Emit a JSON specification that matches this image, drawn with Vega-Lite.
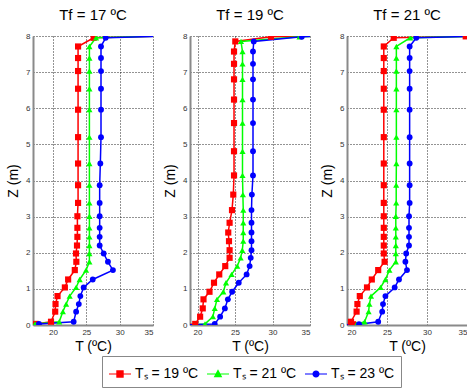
{
"$schema": "https://vega.github.io/schema/vega-lite/v6.json",
"padding": {"left": 6, "top": 8, "right": 0, "bottom": 0},
"datasets": {"d": [
{"p":"17","s":"19","T":16,"z":0},{"p":"17","s":"19","T":17.4,"z":0.03},{"p":"17","s":"19","T":19.7,"z":0.09},{"p":"17","s":"19","T":20.33,"z":0.37},{"p":"17","s":"19","T":20.38,"z":0.58},{"p":"17","s":"19","T":20.68,"z":0.8},{"p":"17","s":"19","T":21.78,"z":1.04},{"p":"17","s":"19","T":22.27,"z":1.26},{"p":"17","s":"19","T":23.27,"z":1.52},{"p":"17","s":"19","T":23.5,"z":1.75},{"p":"17","s":"19","T":23.45,"z":1.98},{"p":"17","s":"19","T":23.6,"z":2.2},{"p":"17","s":"19","T":23.66,"z":2.44},{"p":"17","s":"19","T":23.66,"z":2.69},{"p":"17","s":"19","T":23.66,"z":3.01},{"p":"17","s":"19","T":23.76,"z":3.38},{"p":"17","s":"19","T":23.76,"z":3.87},{"p":"17","s":"19","T":23.76,"z":4.47},{"p":"17","s":"19","T":23.76,"z":5.2},{"p":"17","s":"19","T":23.76,"z":5.96},{"p":"17","s":"19","T":23.76,"z":6.54},{"p":"17","s":"19","T":23.76,"z":7.03},{"p":"17","s":"19","T":23.76,"z":7.39},{"p":"17","s":"19","T":23.76,"z":7.71},{"p":"17","s":"19","T":26.1,"z":7.95},{"p":"17","s":"19","T":37,"z":8},
{"p":"17","s":"21","T":16,"z":0},{"p":"17","s":"21","T":17.3,"z":0.03},{"p":"17","s":"21","T":20.93,"z":0.09},{"p":"17","s":"21","T":21.48,"z":0.37},{"p":"17","s":"21","T":21.97,"z":0.58},{"p":"17","s":"21","T":22.5,"z":0.8},{"p":"17","s":"21","T":23.47,"z":1.04},{"p":"17","s":"21","T":24.0,"z":1.26},{"p":"17","s":"21","T":24.96,"z":1.52},{"p":"17","s":"21","T":25.46,"z":1.75},{"p":"17","s":"21","T":25.46,"z":1.98},{"p":"17","s":"21","T":25.46,"z":2.2},{"p":"17","s":"21","T":25.46,"z":2.44},{"p":"17","s":"21","T":25.46,"z":2.69},{"p":"17","s":"21","T":25.46,"z":3.01},{"p":"17","s":"21","T":25.46,"z":3.38},{"p":"17","s":"21","T":25.46,"z":3.87},{"p":"17","s":"21","T":25.46,"z":4.47},{"p":"17","s":"21","T":25.46,"z":5.2},{"p":"17","s":"21","T":25.46,"z":5.96},{"p":"17","s":"21","T":25.46,"z":6.54},{"p":"17","s":"21","T":25.46,"z":7.03},{"p":"17","s":"21","T":25.46,"z":7.39},{"p":"17","s":"21","T":25.46,"z":7.71},{"p":"17","s":"21","T":26.45,"z":7.95},{"p":"17","s":"21","T":37,"z":8},
{"p":"17","s":"23","T":16,"z":0},{"p":"17","s":"23","T":17.9,"z":0.03},{"p":"17","s":"23","T":23.1,"z":0.09},{"p":"17","s":"23","T":23.47,"z":0.37},{"p":"17","s":"23","T":23.87,"z":0.58},{"p":"17","s":"23","T":24.1,"z":0.8},{"p":"17","s":"23","T":24.6,"z":1.04},{"p":"17","s":"23","T":25.96,"z":1.26},{"p":"17","s":"23","T":28.99,"z":1.52},{"p":"17","s":"23","T":28.24,"z":1.75},{"p":"17","s":"23","T":27.6,"z":1.98},{"p":"17","s":"23","T":27.0,"z":2.2},{"p":"17","s":"23","T":27.0,"z":2.44},{"p":"17","s":"23","T":27.0,"z":2.69},{"p":"17","s":"23","T":27.0,"z":3.01},{"p":"17","s":"23","T":27.0,"z":3.38},{"p":"17","s":"23","T":27.0,"z":3.87},{"p":"17","s":"23","T":27.1,"z":4.47},{"p":"17","s":"23","T":27.2,"z":5.2},{"p":"17","s":"23","T":27.2,"z":5.96},{"p":"17","s":"23","T":27.2,"z":6.54},{"p":"17","s":"23","T":27.2,"z":7.03},{"p":"17","s":"23","T":27.2,"z":7.39},{"p":"17","s":"23","T":27.2,"z":7.71},{"p":"17","s":"23","T":27.9,"z":7.95},{"p":"17","s":"23","T":37,"z":8},
{"p":"19","s":"19","T":18,"z":0},{"p":"19","s":"19","T":19.7,"z":0.03},{"p":"19","s":"19","T":20.35,"z":0.23},{"p":"19","s":"19","T":20.7,"z":0.46},{"p":"19","s":"19","T":20.8,"z":0.71},{"p":"19","s":"19","T":21.6,"z":0.92},{"p":"19","s":"19","T":22.2,"z":1.17},{"p":"19","s":"19","T":22.9,"z":1.4},{"p":"19","s":"19","T":23.7,"z":1.63},{"p":"19","s":"19","T":24.28,"z":1.86},{"p":"19","s":"19","T":24.28,"z":2.07},{"p":"19","s":"19","T":24.2,"z":2.32},{"p":"19","s":"19","T":24.1,"z":2.56},{"p":"19","s":"19","T":24.28,"z":2.83},{"p":"19","s":"19","T":24.6,"z":3.18},{"p":"19","s":"19","T":24.77,"z":3.61},{"p":"19","s":"19","T":24.87,"z":4.14},{"p":"19","s":"19","T":24.87,"z":4.81},{"p":"19","s":"19","T":24.87,"z":5.59},{"p":"19","s":"19","T":24.87,"z":6.24},{"p":"19","s":"19","T":24.87,"z":6.8},{"p":"19","s":"19","T":24.87,"z":7.23},{"p":"19","s":"19","T":24.87,"z":7.57},{"p":"19","s":"19","T":25.04,"z":7.85},{"p":"19","s":"19","T":29.8,"z":7.98},{"p":"19","s":"19","T":37,"z":8},
{"p":"19","s":"21","T":18,"z":0},{"p":"19","s":"21","T":21.0,"z":0.03},{"p":"19","s":"21","T":22.05,"z":0.23},{"p":"19","s":"21","T":22.3,"z":0.46},{"p":"19","s":"21","T":22.6,"z":0.71},{"p":"19","s":"21","T":23.44,"z":0.92},{"p":"19","s":"21","T":23.8,"z":1.17},{"p":"19","s":"21","T":24.55,"z":1.4},{"p":"19","s":"21","T":25.3,"z":1.63},{"p":"19","s":"21","T":25.75,"z":1.86},{"p":"19","s":"21","T":25.97,"z":2.07},{"p":"19","s":"21","T":26.1,"z":2.32},{"p":"19","s":"21","T":26.1,"z":2.56},{"p":"19","s":"21","T":26.1,"z":2.83},{"p":"19","s":"21","T":26.1,"z":3.18},{"p":"19","s":"21","T":26.05,"z":3.61},{"p":"19","s":"21","T":26.0,"z":4.14},{"p":"19","s":"21","T":26.0,"z":4.81},{"p":"19","s":"21","T":26.0,"z":5.59},{"p":"19","s":"21","T":26.0,"z":6.24},{"p":"19","s":"21","T":26.0,"z":6.8},{"p":"19","s":"21","T":26.0,"z":7.23},{"p":"19","s":"21","T":26.0,"z":7.57},{"p":"19","s":"21","T":25.8,"z":7.85},{"p":"19","s":"21","T":33.6,"z":7.98},{"p":"19","s":"21","T":37,"z":8},
{"p":"19","s":"23","T":18,"z":0},{"p":"19","s":"23","T":22.3,"z":0.03},{"p":"19","s":"23","T":23.02,"z":0.23},{"p":"19","s":"23","T":23.65,"z":0.46},{"p":"19","s":"23","T":24.05,"z":0.71},{"p":"19","s":"23","T":24.62,"z":0.92},{"p":"19","s":"23","T":25.5,"z":1.17},{"p":"19","s":"23","T":26.55,"z":1.4},{"p":"19","s":"23","T":26.95,"z":1.63},{"p":"19","s":"23","T":27.1,"z":1.86},{"p":"19","s":"23","T":27.2,"z":2.07},{"p":"19","s":"23","T":27.2,"z":2.32},{"p":"19","s":"23","T":27.2,"z":2.56},{"p":"19","s":"23","T":27.2,"z":2.83},{"p":"19","s":"23","T":27.2,"z":3.18},{"p":"19","s":"23","T":27.25,"z":3.61},{"p":"19","s":"23","T":27.4,"z":4.14},{"p":"19","s":"23","T":27.4,"z":4.81},{"p":"19","s":"23","T":27.4,"z":5.59},{"p":"19","s":"23","T":27.4,"z":6.24},{"p":"19","s":"23","T":27.4,"z":6.8},{"p":"19","s":"23","T":27.4,"z":7.23},{"p":"19","s":"23","T":27.4,"z":7.57},{"p":"19","s":"23","T":27.5,"z":7.85},{"p":"19","s":"23","T":33.9,"z":7.98},{"p":"19","s":"23","T":37,"z":8},
{"p":"21","s":"19","T":19,"z":0},{"p":"21","s":"19","T":20.75,"z":0.02},{"p":"21","s":"19","T":20.5,"z":0.09},{"p":"21","s":"19","T":21.2,"z":0.37},{"p":"21","s":"19","T":21.3,"z":0.58},{"p":"21","s":"19","T":21.6,"z":0.8},{"p":"21","s":"19","T":22.5,"z":1.04},{"p":"21","s":"19","T":23.1,"z":1.26},{"p":"21","s":"19","T":23.9,"z":1.52},{"p":"21","s":"19","T":24.7,"z":1.75},{"p":"21","s":"19","T":24.6,"z":1.98},{"p":"21","s":"19","T":24.6,"z":2.2},{"p":"21","s":"19","T":24.6,"z":2.44},{"p":"21","s":"19","T":24.6,"z":2.69},{"p":"21","s":"19","T":24.6,"z":3.01},{"p":"21","s":"19","T":24.6,"z":3.38},{"p":"21","s":"19","T":24.6,"z":3.87},{"p":"21","s":"19","T":24.6,"z":4.47},{"p":"21","s":"19","T":24.6,"z":5.2},{"p":"21","s":"19","T":24.6,"z":5.96},{"p":"21","s":"19","T":24.6,"z":6.54},{"p":"21","s":"19","T":24.6,"z":7.03},{"p":"21","s":"19","T":24.6,"z":7.39},{"p":"21","s":"19","T":24.6,"z":7.71},{"p":"21","s":"19","T":25.84,"z":7.95},{"p":"21","s":"19","T":34.84,"z":7.99},{"p":"21","s":"19","T":37,"z":8},
{"p":"21","s":"21","T":19,"z":0},{"p":"21","s":"21","T":21.2,"z":0.02},{"p":"21","s":"21","T":22.2,"z":0.09},{"p":"21","s":"21","T":22.7,"z":0.37},{"p":"21","s":"21","T":22.8,"z":0.58},{"p":"21","s":"21","T":23.0,"z":0.8},{"p":"21","s":"21","T":24.2,"z":1.04},{"p":"21","s":"21","T":24.8,"z":1.26},{"p":"21","s":"21","T":25.3,"z":1.52},{"p":"21","s":"21","T":26.1,"z":1.75},{"p":"21","s":"21","T":26.1,"z":1.98},{"p":"21","s":"21","T":26.1,"z":2.2},{"p":"21","s":"21","T":26.1,"z":2.44},{"p":"21","s":"21","T":26.1,"z":2.69},{"p":"21","s":"21","T":26.1,"z":3.01},{"p":"21","s":"21","T":26.15,"z":3.38},{"p":"21","s":"21","T":26.15,"z":3.87},{"p":"21","s":"21","T":26.17,"z":4.47},{"p":"21","s":"21","T":26.17,"z":5.2},{"p":"21","s":"21","T":26.17,"z":5.96},{"p":"21","s":"21","T":26.17,"z":6.54},{"p":"21","s":"21","T":26.17,"z":7.03},{"p":"21","s":"21","T":26.17,"z":7.39},{"p":"21","s":"21","T":26.17,"z":7.71},{"p":"21","s":"21","T":27.9,"z":7.95},{"p":"21","s":"21","T":37,"z":8},
{"p":"21","s":"23","T":19,"z":0},{"p":"21","s":"23","T":21.5,"z":0.02},{"p":"21","s":"23","T":23.9,"z":0.09},{"p":"21","s":"23","T":24.4,"z":0.37},{"p":"21","s":"23","T":24.5,"z":0.58},{"p":"21","s":"23","T":24.8,"z":0.8},{"p":"21","s":"23","T":25.96,"z":1.04},{"p":"21","s":"23","T":26.5,"z":1.26},{"p":"21","s":"23","T":27.5,"z":1.52},{"p":"21","s":"23","T":27.3,"z":1.75},{"p":"21","s":"23","T":27.4,"z":1.98},{"p":"21","s":"23","T":27.75,"z":2.2},{"p":"21","s":"23","T":27.75,"z":2.44},{"p":"21","s":"23","T":27.75,"z":2.69},{"p":"21","s":"23","T":27.75,"z":3.01},{"p":"21","s":"23","T":27.83,"z":3.38},{"p":"21","s":"23","T":27.83,"z":3.87},{"p":"21","s":"23","T":27.83,"z":4.47},{"p":"21","s":"23","T":27.83,"z":5.2},{"p":"21","s":"23","T":27.83,"z":5.96},{"p":"21","s":"23","T":27.83,"z":6.54},{"p":"21","s":"23","T":27.83,"z":7.03},{"p":"21","s":"23","T":27.83,"z":7.39},{"p":"21","s":"23","T":27.83,"z":7.71},{"p":"21","s":"23","T":28.66,"z":7.95},{"p":"21","s":"23","T":37,"z":8}
]},
"data": {"name": "d"},
"spacing": 37,
"bounds": "flush",
"resolve": {"scale": {"x": "independent", "y": "independent", "color": "shared"}, "legend": {"color": "shared"}},
"config": {
  "font": "Liberation Sans",
  "view": {"stroke": null},
  "axis": {"grid": true, "gridColor": "#111", "gridDash": [1, 2], "gridOpacity": 0.9, "gridWidth": 1, "ticks": false, "domainColor": "#8a8a8a", "domainWidth": 2, "labelFontSize": 8, "labelColor": "#333", "labelFont": "Liberation Sans", "titleFont": "Liberation Sans", "titleFontSize": 14, "titleFontWeight": "normal", "titleColor": "#000", "labelPadding": 3},
  "axisX": {"titlePadding": 3},
  "axisY": {"titlePadding": 5},
  "title": {"fontSize": 15, "fontWeight": "normal", "font": "Liberation Sans", "offset": 9, "color": "#000"}
},
"hconcat": [
 {
  "width": 120, "height": 289,
  "title": "Tf = 17 ºC",
  "transform": [{"filter": "datum.p == '17'"}],
  "encoding": {
    "x": {"field": "T", "type": "quantitative", "scale": {"domain": [17, 35], "nice": false, "zero": false}, "axis": {"values": [20, 25, 30, 35], "title": "T (ºC)"}},
    "y": {"field": "z", "type": "quantitative", "scale": {"domain": [0, 8], "nice": false}, "axis": {"values": [0, 1, 2, 3, 4, 5, 6, 7, 8], "title": "Z (m)"}},
    "color": {"field": "s", "type": "nominal", "scale": {"domain": ["19", "21", "23"], "range": ["#ff0000", "#00ff00", "#0000ff"]},
      "legend": {"orient": "none", "legendX": 69, "legendY": 320, "direction": "horizontal", "title": null,
        "labelExpr": "'Tₛ = ' + datum.label + ' ºC'", "labelFontSize": 14, "labelFont": "Liberation Sans", "labelColor": "#000",
        "symbolSize": 484, "symbolStrokeWidth": 1.2, "strokeColor": "#888", "fillColor": "#fff", "padding": 6, "columnPadding": 5, "labelOffset": 3,
        "encode": {"symbols": {"update": {
          "shape": {"signal": "datum.value == '19' ? 'M-1,0H1M-0.28,-0.28H0.28V0.28H-0.28Z' : datum.value == '21' ? 'M-1,0H1M0,-0.32L0.3,0.24H-0.3Z' : 'M-1,0H1M-0.27,0A0.27,0.27,0,1,0,0.27,0A0.27,0.27,0,1,0,-0.27,0Z'"},
          "fill": {"scale": "color", "field": "value"},
          "stroke": {"scale": "color", "field": "value"},
          "opacity": {"value": 1}
        }}}
      }}
  },
  "layer": [
    {"mark": {"type": "line", "clip": true, "strokeWidth": 1.5}, "encoding": {"order": {"field": "z", "type": "quantitative"}}},
    {"transform": [{"filter": "datum.s == '19'"}], "mark": {"type": "point", "shape": "square", "filled": true, "clip": true, "opacity": 1, "size": 38}},
    {"transform": [{"filter": "datum.s == '21'"}], "mark": {"type": "point", "shape": "triangle-up", "filled": true, "clip": true, "opacity": 1, "size": 38}},
    {"transform": [{"filter": "datum.s == '23'"}], "mark": {"type": "point", "shape": "circle", "filled": true, "clip": true, "opacity": 1, "size": 34}}
  ]
 },
 {
  "width": 120, "height": 289,
  "title": "Tf = 19 ºC",
  "transform": [{"filter": "datum.p == '19'"}],
  "encoding": {
    "x": {"field": "T", "type": "quantitative", "scale": {"domain": [19, 35], "nice": false, "zero": false}, "axis": {"values": [20, 25, 30, 35], "title": "T (ºC)"}},
    "y": {"field": "z", "type": "quantitative", "scale": {"domain": [0, 8], "nice": false}, "axis": {"values": [0, 1, 2, 3, 4, 5, 6, 7, 8], "title": "Z (m)"}},
    "color": {"field": "s", "type": "nominal"}
  },
  "layer": [
    {"mark": {"type": "line", "clip": true, "strokeWidth": 1.5}, "encoding": {"order": {"field": "z", "type": "quantitative"}}},
    {"transform": [{"filter": "datum.s == '19'"}], "mark": {"type": "point", "shape": "square", "filled": true, "clip": true, "opacity": 1, "size": 38}},
    {"transform": [{"filter": "datum.s == '21'"}], "mark": {"type": "point", "shape": "triangle-up", "filled": true, "clip": true, "opacity": 1, "size": 38}},
    {"transform": [{"filter": "datum.s == '23'"}], "mark": {"type": "point", "shape": "circle", "filled": true, "clip": true, "opacity": 1, "size": 34}}
  ]
 },
 {
  "width": 120, "height": 289,
  "title": "Tf = 21 ºC",
  "transform": [{"filter": "datum.p == '21'"}],
  "encoding": {
    "x": {"field": "T", "type": "quantitative", "scale": {"domain": [20, 35], "nice": false, "zero": false}, "axis": {"values": [20, 25, 30, 35], "title": "T (ºC)"}},
    "y": {"field": "z", "type": "quantitative", "scale": {"domain": [0, 8], "nice": false}, "axis": {"values": [0, 1, 2, 3, 4, 5, 6, 7, 8], "title": "Z (m)"}},
    "color": {"field": "s", "type": "nominal"}
  },
  "layer": [
    {"mark": {"type": "line", "clip": true, "strokeWidth": 1.5}, "encoding": {"order": {"field": "z", "type": "quantitative"}}},
    {"transform": [{"filter": "datum.s == '19'"}], "mark": {"type": "point", "shape": "square", "filled": true, "clip": true, "opacity": 1, "size": 38}},
    {"transform": [{"filter": "datum.s == '21'"}], "mark": {"type": "point", "shape": "triangle-up", "filled": true, "clip": true, "opacity": 1, "size": 38}},
    {"transform": [{"filter": "datum.s == '23'"}], "mark": {"type": "point", "shape": "circle", "filled": true, "clip": true, "opacity": 1, "size": 34}}
  ]
 }
]
}
